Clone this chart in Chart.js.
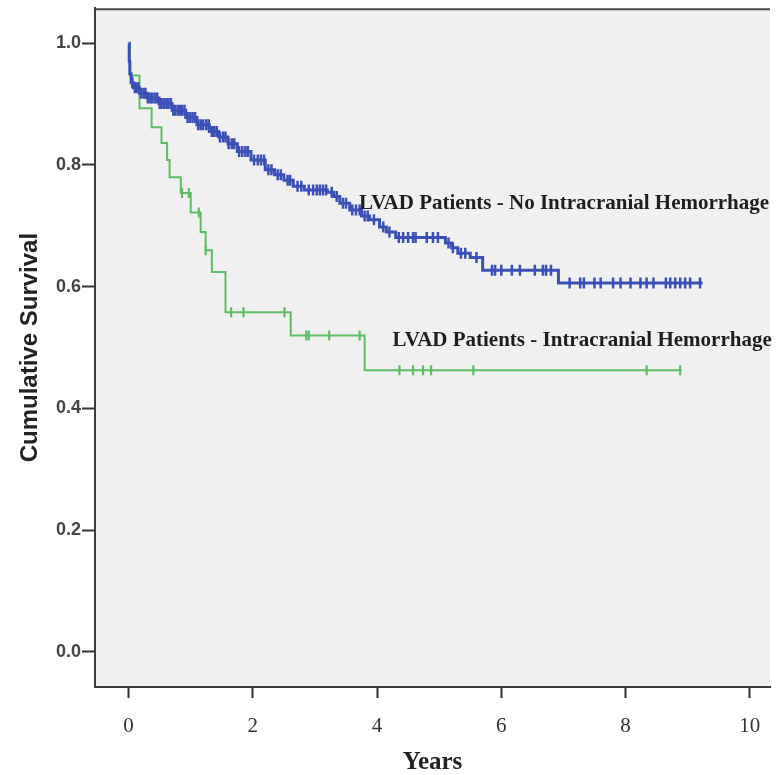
<!DOCTYPE html>
<html>
<head>
<meta charset="utf-8">
<title>Cumulative Survival - LVAD Patients</title>
<script src="https://cdn.jsdelivr.net/npm/chart.js@4.4.0/dist/chart.umd.min.js"></script>
<style>
  html, body { margin: 0; padding: 0; background: #fff; }
  #wrap { width: 778px; height: 775px; }
</style>
</head>
<body>
<div id="wrap"><canvas id="km" width="778" height="775"></canvas></div>
<script>
// Kaplan-Meier steps (years, cumulative survival)
const ichTimes = [0, 0.02, 0.175, 0.37, 0.53, 0.62, 0.66, 0.84, 1.0, 1.16, 1.24, 1.34, 1.56, 2.61, 3.80];
const ichSurv  = [1.0, 0.947, 0.893, 0.862, 0.836, 0.808, 0.78, 0.754, 0.722, 0.69, 0.66, 0.624, 0.558, 0.52, 0.463];
const ichEnd = 8.9;
const ichCensored = [0.86, 0.97, 1.13, 1.24, 1.65, 1.85, 2.51, 2.86, 2.9, 3.23, 3.72, 4.36, 4.58, 4.74, 4.87, 5.55, 8.34, 8.88];

const noIchTimes = [0, 0.01, 0.02, 0.04, 0.08, 0.175, 0.3, 0.49, 0.7, 0.92, 1.1, 1.3, 1.45, 1.6, 1.75, 1.97, 2.2, 2.35, 2.5, 2.65, 2.83, 3.2, 3.3, 3.4, 3.56, 3.75, 3.88, 4.04, 4.15, 4.3, 5.1, 5.2, 5.3, 5.5, 5.7, 6.92];
const noIchSurv  = [1.0, 0.97, 0.95, 0.935, 0.927, 0.918, 0.91, 0.901, 0.89, 0.878, 0.866, 0.855, 0.846, 0.835, 0.822, 0.808, 0.792, 0.784, 0.775, 0.765, 0.759, 0.755, 0.748, 0.737, 0.726, 0.716, 0.71, 0.698, 0.69, 0.681, 0.672, 0.664, 0.655, 0.648, 0.627, 0.606];
const noIchEnd = 9.24;
const noIchCensored = [0.06, 0.1, 0.13, 0.16, 0.2, 0.24, 0.27, 0.31, 0.35, 0.38, 0.42, 0.46, 0.5, 0.53, 0.57, 0.61, 0.64, 0.68, 0.72, 0.75, 0.79, 0.83, 0.86, 0.9, 0.95, 0.99, 1.03, 1.07, 1.12, 1.16, 1.2, 1.25, 1.29, 1.34, 1.38, 1.42, 1.47, 1.52, 1.56, 1.61, 1.66, 1.7, 1.78, 1.83, 1.88, 1.92, 2.02, 2.08, 2.13, 2.18, 2.25, 2.3, 2.4, 2.45, 2.56, 2.6, 2.72, 2.78, 2.9, 2.97, 3.03, 3.08, 3.13, 3.18, 3.27, 3.35, 3.45, 3.5, 3.6, 3.66, 3.72, 3.8, 3.85, 3.95, 4.1, 4.2, 4.35, 4.42, 4.5, 4.58, 4.62, 4.8, 4.9, 4.98, 5.15, 5.22, 5.35, 5.42, 5.6, 5.85, 5.9, 6.0, 6.17, 6.3, 6.54, 6.67, 6.72, 6.8, 7.1, 7.27, 7.33, 7.5, 7.6, 7.8, 7.92, 8.08, 8.24, 8.34, 8.45, 8.65, 8.72, 8.8, 8.88, 8.96, 9.04, 9.2];

const xTicks = [0, 2, 4, 6, 8, 10];
const yTicks = [0, 0.2, 0.4, 0.6, 0.8, 1.0];
const groupNames = ["LVAD Patients - No Intracranial Hemorrhage", "LVAD Patients - Intracranial Hemorrhage"];

const blue = '#3a50b6';
const green = '#5dbd62';

const stepPoints = (times, surv, end) => {
    let pts = times.map((t, i) => ({ x: t, y: surv[i] }));
    pts.push({ x: end, y: surv[surv.length - 1] });
    return pts;
}

const survAt = (times, surv, t) => {
    let s = surv[0];
    for (let i = 0; i < times.length; i++) {
        if (times[i] <= t) s = surv[i];
    }
    return s;
}

const censorPoints = (times, surv, cens) => cens.map(t => ({ x: t, y: survAt(times, surv, t) }));

// plot background, top frame line and the curve labels
const frame = {
    id: 'frame',
    beforeDraw(chart) {
        const { ctx, chartArea: a } = chart;
        ctx.save();
        ctx.fillStyle = '#f0f0f0';
        ctx.fillRect(a.left, a.top, a.right - a.left, a.bottom - a.top);
        ctx.restore();
    },
    afterDraw(chart) {
        const { ctx, chartArea: a, scales } = chart;
        ctx.save();
        ctx.strokeStyle = '#4a4a4a';
        ctx.lineWidth = 2;
        ctx.beginPath();
        ctx.moveTo(a.left, a.top + 1);
        ctx.lineTo(a.right, a.top + 1);
        ctx.stroke();

        ctx.fillStyle = '#1e1e1e';
        ctx.font = 'bold 21px "Liberation Serif"';
        ctx.textBaseline = 'middle';
        ctx.textAlign = 'left';
        ctx.fillText(groupNames[0], scales.x.getPixelForValue(3.71), scales.y.getPixelForValue(0.737));
        ctx.fillText(groupNames[1], scales.x.getPixelForValue(4.25), scales.y.getPixelForValue(0.512));
        ctx.restore();
    }
};

const make_chart = () => {
    const km = document.getElementById('km').getContext('2d');
    new Chart(km, {
        type: 'scatter',
        data: {
            datasets: [
                {
                    label: groupNames[0],
                    data: stepPoints(noIchTimes, noIchSurv, noIchEnd),
                    showLine: true,
                    stepped: 'before',
                    borderColor: blue,
                    borderWidth: 3,
                    pointRadius: 0
                },
                {
                    label: 'censored (no ICH)',
                    data: censorPoints(noIchTimes, noIchSurv, noIchCensored),
                    showLine: false,
                    pointStyle: 'line',
                    rotation: 90,
                    pointRadius: 5.5,
                    borderColor: blue,
                    borderWidth: 2.5
                },
                {
                    label: groupNames[1],
                    data: stepPoints(ichTimes, ichSurv, ichEnd),
                    showLine: true,
                    stepped: 'before',
                    borderColor: green,
                    borderWidth: 2,
                    pointRadius: 0
                },
                {
                    label: 'censored (ICH)',
                    data: censorPoints(ichTimes, ichSurv, ichCensored),
                    showLine: false,
                    pointStyle: 'line',
                    rotation: 90,
                    pointRadius: 5,
                    borderColor: green,
                    borderWidth: 2.2
                }
            ]
        },
        options: {
            responsive: false,
            animation: false,
            layout: { padding: { top: 8, right: 0, left: 0, bottom: 0 } },
            plugins: {
                legend: { display: false },
                tooltip: { enabled: false }
            },
            scales: {
                x: {
                    type: 'linear',
                    min: -0.541,
                    max: 10.326,
                    afterBuildTicks: (s) => { s.ticks = xTicks.map(v => ({ value: v })); },
                    afterFit: (s) => { s.height = 88; },
                    grid: { drawOnChartArea: false, drawTicks: true, tickLength: 11, tickColor: '#333', tickWidth: 2 },
                    border: { color: '#3a3a3a', width: 2 },
                    ticks: {
                        color: '#333',
                        padding: 16,
                        font: { family: '"Liberation Serif"', size: 21 },
                        callback: (v) => String(v)
                    },
                    title: {
                        display: true,
                        text: 'Years',
                        color: '#222',
                        padding: { top: 0, bottom: 0 },
                        font: { family: '"Liberation Serif"', size: 25, weight: 'bold', lineHeight: 1.0 }
                    }
                },
                y: {
                    min: -0.0575,
                    max: 1.0575,
                    afterBuildTicks: (s) => { s.ticks = yTicks.map(v => ({ value: v })); },
                    afterFit: (s) => { s.width = 95; },
                    grid: { drawOnChartArea: false, drawTicks: true, tickLength: 13, tickColor: '#333', tickWidth: 2 },
                    border: { color: '#3a3a3a', width: 2 },
                    ticks: {
                        color: '#444',
                        padding: 1,
                        font: { family: '"Liberation Sans"', size: 18, weight: 'bold', lineHeight: 0.8 },
                        callback: (v) => v.toFixed(1)
                    },
                    title: {
                        display: true,
                        text: 'Cumulative Survival',
                        color: '#222',
                        padding: { top: 16, bottom: 4 },
                        font: { family: '"Liberation Sans"', size: 24, weight: 'bold' }
                    }
                }
            }
        },
        plugins: [frame]
    });
}

make_chart();
</script>
</body>
</html>
